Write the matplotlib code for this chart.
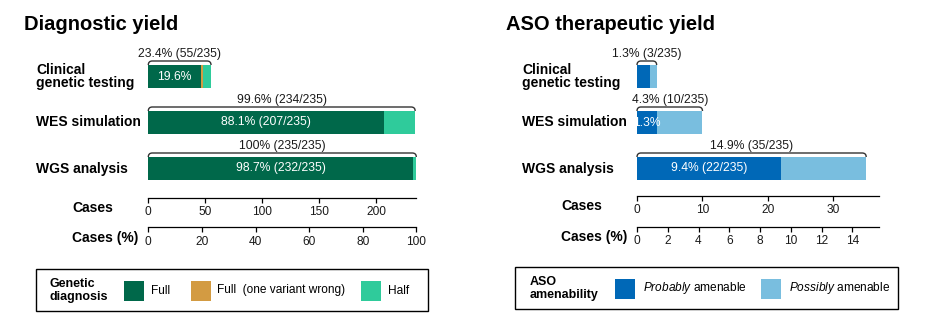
import matplotlib.pyplot as plt
import numpy as np
from matplotlib.patches import Rectangle, PathPatch
from matplotlib.path import Path
from matplotlib.transforms import blended_transform_factory

plt.rcParams['font.family'] = ['Liberation Sans', 'DejaVu Sans']
plt.rcParams['mathtext.fontset'] = 'custom'
plt.rcParams['mathtext.rm'] = 'Liberation Sans'
plt.rcParams['mathtext.it'] = 'Liberation Sans:italic'
plt.rcParams['mathtext.bf'] = 'Liberation Sans:bold'

W, H = 942, 336
N_TOTAL = 235

categorias = ["Clinical\ngenetic testing", "WES simulation", "WGS analysis"]

# Diagnostic yield (cases)
diag_full = [46, 207, 232]
diag_wrong = [2, 0, 0]
diag_half = [7, 27, 3]
diag_labels = ["Full", "Full  (one variant wrong)", "Half"]
diag_colores = ["#00684A", "#D39B42", "#2FCB9B"]

# ASO therapeutic yield (cases)
aso_probably = [2, 3, 22]
aso_possibly = [1, 7, 13]
aso_labels = [r"$\it{Probably}$ amenable", r"$\it{Possibly}$ amenable"]
aso_colores = ["#0068B7", "#79BEDF"]

diag_case_ticks = [0, 50, 100, 150, 200]
diag_pct_ticks = [0, 20, 40, 60, 80, 100]
aso_case_ticks = [0, 10, 20, 30]
aso_pct_ticks = [0, 2, 4, 6, 8, 10, 12, 14]

PX_UNIT = 46.0  # pixels per category step


def pct_txt(n):
    return f"{100 * n / N_TOTAL:.1f}".rstrip('0').rstrip('.')


def px_ax(fig, x0, x1, y0, y1):
    return fig.add_axes([x0 / W, 1 - y1 / H, (x1 - x0) / W, (y1 - y0) / H])


def eje(fig, x0, x1, ylinea, xmax, ticks, texto):
    a = px_ax(fig, x0, x1, ylinea - 2, ylinea)
    a.set_xlim(0, xmax)
    a.set_xticks(ticks)
    a.set_yticks([])
    for s in ['top', 'left', 'right']:
        a.spines[s].set_visible(False)
    a.spines['bottom'].set_linewidth(0.9)
    a.patch.set_visible(False)
    a.tick_params(axis='x', length=3.6, width=0.9, pad=2.5, labelsize=8.6,
                  labelcolor='#1a1a1a')
    fig.text((x0 - 76) / W, 1 - (ylinea + 10.5) / H, texto, fontsize=10,
             fontweight='bold', ha='left', va='center')


def panel(fig, x0, x1, xmax, segmentos, colores, titulo, xtitulo, xfila,
          y_cases, y_pct, case_ticks, pct_ticks):
    ax = px_ax(fig, x0, x1, 76.5 - 1.0 * PX_UNIT, 76.5 + 2.5 * PX_UNIT)
    ax.set_xlim(0, xmax)
    ax.set_ylim(2.5, -1.0)
    ax.axis('off')

    y = np.arange(len(categorias))
    izq = np.zeros(len(categorias))
    for valores, c in zip(segmentos, colores):
        ax.barh(y, valores, left=izq, height=0.5, color=c, edgecolor='none')
        izq = izq + np.array(valores)
    total = izq

    px_por_caso = (x1 - x0) / xmax
    rx = 4 / px_por_caso
    for i, (n_full, n_tot) in enumerate(zip(segmentos[0], total)):
        n_tot = int(n_tot)
        ancho = n_full * px_por_caso
        if ancho >= 100:
            t = f"{pct_txt(n_full)}% ({n_full}/{N_TOTAL})"
        elif ancho >= 15:
            t = f"{pct_txt(n_full)}%"
        else:
            t = None
        if t:
            ax.text(n_full / 2, i, t, color='white', fontsize=8.7,
                    ha='center', va='center')

        ytop = i - 0.25
        ylin = i - 15.5 / PX_UNIT
        verts = [(0, ytop), (0, ylin), (rx, ylin), (n_tot - rx, ylin),
                 (n_tot, ylin), (n_tot, ytop)]
        codes = [Path.MOVETO, Path.CURVE3, Path.CURVE3, Path.LINETO,
                 Path.CURVE3, Path.CURVE3]
        ax.add_patch(PathPatch(Path(verts, codes), fill=False, lw=1.0,
                               edgecolor='#333333', clip_on=False))
        ax.text(n_tot / 2, i - 22.5 / PX_UNIT,
                f"{pct_txt(n_tot)}% ({n_tot}/{N_TOTAL})",
                fontsize=8.7, ha='center', va='center', color='#1a1a1a')

    tr = blended_transform_factory(fig.transFigure, ax.transData)
    for i, cat in enumerate(categorias):
        ax.text(xfila / W, i, cat, transform=tr, fontsize=10,
                fontweight='bold', ha='left', va='center', linespacing=0.95)

    fig.text(xtitulo / W, 1 - 25 / H, titulo, fontsize=14.5,
             fontweight='bold', ha='left', va='center')

    eje(fig, x0, x1, y_cases, xmax, case_ticks, "Cases")
    eje(fig, x0, x1, y_pct, xmax / N_TOTAL * 100, pct_ticks, "Cases (%)")


def leyenda(over, caja, titulo, xt, items, ycen, dx_txt):
    bx0, by0, bx1, by1 = caja
    over.add_patch(Rectangle((bx0, by0), bx1 - bx0, by1 - by0, fill=False,
                             lw=1.0, edgecolor='black'))
    over.text(xt, ycen, titulo, fontsize=9, fontweight='bold',
              ha='left', va='center', linespacing=1.2)
    for xp, c, lab in items:
        over.add_patch(Rectangle((xp, ycen - 10), 20, 20, color=c, lw=0))
        over.text(xp + 20 + dx_txt, ycen, lab, fontsize=8.6,
                  ha='left', va='center')


fig = plt.figure(figsize=(W / 100, H / 100), dpi=100)

panel(fig, 148.3, 416.3, 235, [diag_full, diag_wrong, diag_half],
      diag_colores, "Diagnostic yield", 24, 36.5, 198, 227.3,
      diag_case_ticks, diag_pct_ticks)
panel(fig, 637, 879.3, 37, [aso_probably, aso_possibly],
      aso_colores, "ASO therapeutic yield", 506, 522.5, 196, 226.7,
      aso_case_ticks, aso_pct_ticks)

over = fig.add_axes([0, 0, 1, 1])
over.set_xlim(0, W)
over.set_ylim(H, 0)
over.axis('off')

leyenda(over, (36, 269.3, 427.7, 311.3), "Genetic\ndiagnosis", 50,
        list(zip([124, 190.7, 361], diag_colores, diag_labels)), 290.5, 6.7)
leyenda(over, (515.3, 267.3, 898.3, 309), "ASO\namenability", 530,
        list(zip([615, 761], aso_colores, aso_labels)), 288.5, 8)

fig.savefig("out.png", dpi=100)
